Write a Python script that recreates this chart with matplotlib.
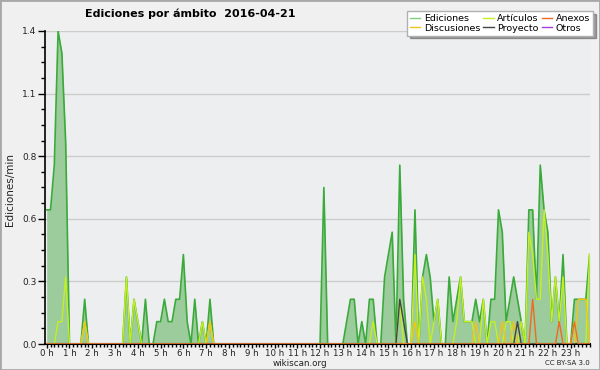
import matplotlib
matplotlib.use("Agg")
import matplotlib.pyplot as plt
from matplotlib.lines import Line2D
from matplotlib.patches import Rectangle
import numpy as np

# edits per 10 minute slot (144 slots in the day)
ediciones = [6, 6, 8, 14, 13, 9, 0, 0, 0, 0, 2, 0,
             0, 0, 0, 0, 0, 0, 0, 0, 0, 3, 0, 2,
             1, 0, 2, 0, 0, 1, 1, 2, 1, 1, 2, 2,
             4, 1, 0, 2, 0, 1, 0, 2, 0, 0, 0, 0,
             0, 0, 0, 0, 0, 0, 0, 0, 0, 0, 0, 0,
             0, 0, 0, 0, 0, 0, 0, 0, 0, 0, 0, 0,
             0, 7, 0, 0, 0, 0, 0, 1, 2, 2, 0, 1,
             0, 2, 2, 0, 0, 3, 4, 5, 0, 8, 2, 0,
             0, 6, 0, 3, 4, 3, 1, 2, 0, 0, 3, 1,
             2, 3, 1, 1, 1, 2, 1, 2, 0, 2, 2, 6,
             5, 1, 2, 3, 2, 1, 0, 6, 6, 2, 8, 6,
             5, 1, 3, 1, 4, 0, 0, 2, 2, 2, 2, 4]
articulos = [0, 0, 0, 1, 1, 3, 0, 0, 0, 0, 1, 0,
             0, 0, 0, 0, 0, 0, 0, 0, 0, 3, 0, 2,
             1, 0, 0, 0, 0, 0, 0, 0, 0, 0, 0, 0,
             0, 0, 0, 0, 0, 1, 0, 1, 0, 0, 0, 0,
             0, 0, 0, 0, 0, 0, 0, 0, 0, 0, 0, 0,
             0, 0, 0, 0, 0, 0, 0, 0, 0, 0, 0, 0,
             0, 0, 0, 0, 0, 0, 0, 0, 0, 0, 0, 0,
             0, 0, 1, 0, 0, 0, 0, 0, 0, 2, 0, 0,
             0, 4, 0, 3, 2, 0, 1, 2, 0, 0, 0, 0,
             1, 3, 1, 1, 1, 0, 0, 2, 0, 1, 1, 0,
             0, 1, 1, 0, 0, 1, 0, 5, 4, 2, 2, 6,
             4, 1, 3, 1, 3, 0, 0, 1, 0, 0, 0, 4]
# sparse series: {slot: edits}
discusiones = {10: 1, 43: 1, 97: 1, 113: 1, 120: 1, 123: 1, 140: 2, 141: 2, 142: 2}
proyecto = {93: 2, 94: 1, 124: 1}
anexos = {128: 2, 135: 1, 139: 1}
otros = {}

horas = ["%d h" % h for h in range(24)]
yticks_lbl = ["0.0", "0.3", "0.6", "0.8", "1.1", "1.4"]


def dense(d):
    v = np.zeros(144)
    for k in d:
        v[k] = d[k]
    return v


t = np.arange(144)
ed = np.array(ediciones) / 10
ar = np.array(articulos) / 10
di = dense(discusiones) / 10
pr = dense(proyecto) / 10
an = dense(anexos) / 10
ot = dense(otros) / 10

c_ed_line = "#3aaa3a"
c_ed_fill = "#9ccb9c"
c_ar = "#c4f020"
c_di = "#f0c418"
c_pr = "#444444"
c_an = "#f06a20"
c_ot = "#a040e0"

fig = plt.figure(figsize=(6, 3.7), dpi=100)
fig.patch.set_facecolor("#f0f0f0")
fig.patches.append(Rectangle((0, 0), 1, 1, transform=fig.transFigure,
                             fill=False, edgecolor="#a8a8a8", linewidth=2))
ax = fig.add_axes([45/600, 1 - 344/370, 545/600, 313/370])
ax.set_facecolor("#edeef0")

ax.fill_between(t, ed, 0, color=c_ed_fill, lw=0, zorder=2)
ax.plot(t, ot, color=c_ot, lw=1, zorder=3)
ax.plot(t, ed, color=c_ed_line, lw=1.2, zorder=4)
ax.plot(t, ar, color=c_ar, lw=1, zorder=5)
ax.plot(t, di, color=c_di, lw=1, zorder=6)
ax.plot(t, pr, color=c_pr, lw=1, zorder=7)
ax.plot(t, an, color=c_an, lw=1, zorder=8)

ax.set_xlim(-0.45, 143.1)
ax.set_ylim(0, 1.4)
ax.set_yticks(np.linspace(0, 1.4, 6))
ax.set_yticklabels(yticks_lbl)
ax.set_yticks(np.arange(0, 1.4, 0.07), minor=True)
ax.set_xticks(np.arange(0, 144, 6))
ax.set_xticklabels(horas)
ax.set_xticks(np.arange(0, 144, 1), minor=True)
ax.grid(axis="y", color="#cccccc", lw=1, zorder=1)
ax.set_axisbelow(True)
for s in ["top", "right"]:
    ax.spines[s].set_visible(False)
ax.spines["left"].set_linewidth(1.2)
ax.spines["bottom"].set_linewidth(1.5)
ax.tick_params(axis="y", which="major", labelsize=6.5, length=5, width=1,
               pad=1, colors="black", labelcolor="#222222")
ax.tick_params(axis="y", which="minor", length=3, width=1)
ax.tick_params(axis="x", which="major", labelsize=6.2, length=3, width=1,
               pad=0.3, colors="black", labelcolor="#222222")
ax.tick_params(axis="x", which="minor", length=2.5, width=1)

fig.text(10/600, 1 - 190/370, "Ediciones/min", rotation=90, ha="center",
         va="center", fontsize=7.5, color="#222222")
fig.text(85/600, 1 - 14/370, "Ediciones por ámbito  2016-04-21",
         fontsize=8, fontweight="bold", va="center", ha="left")
fig.text(300/600, 1 - 364/370, "wikiscan.org", fontsize=6.3, ha="center",
         va="center", color="#222222")
fig.text(590/600, 1 - 363/370, "CC BY-SA 3.0", fontsize=5, ha="right",
         va="center", color="#222222")

handles = [Line2D([], [], color="#80d080", lw=1),
           Line2D([], [], color=c_di, lw=1),
           Line2D([], [], color=c_ar, lw=1),
           Line2D([], [], color=c_pr, lw=1),
           Line2D([], [], color=c_an, lw=1),
           Line2D([], [], color=c_ot, lw=1)]
labels = ["Ediciones", "Discusiones", "Artículos", "Proyecto", "Anexos", "Otros"]
leg = fig.legend(handles, labels, ncol=3, loc="upper right",
                 bbox_to_anchor=(593/600, 1 - 11/370), fontsize=6.8,
                 frameon=True, fancybox=False, shadow=True, framealpha=1,
                 edgecolor="#b0b0b0", handlelength=1.1, handletextpad=0.4,
                 columnspacing=0.3, labelspacing=0.1, borderpad=0.3,
                 borderaxespad=0)
leg.get_frame().set_linewidth(1)

fig.savefig("out.png", dpi=100, facecolor=fig.get_facecolor())
